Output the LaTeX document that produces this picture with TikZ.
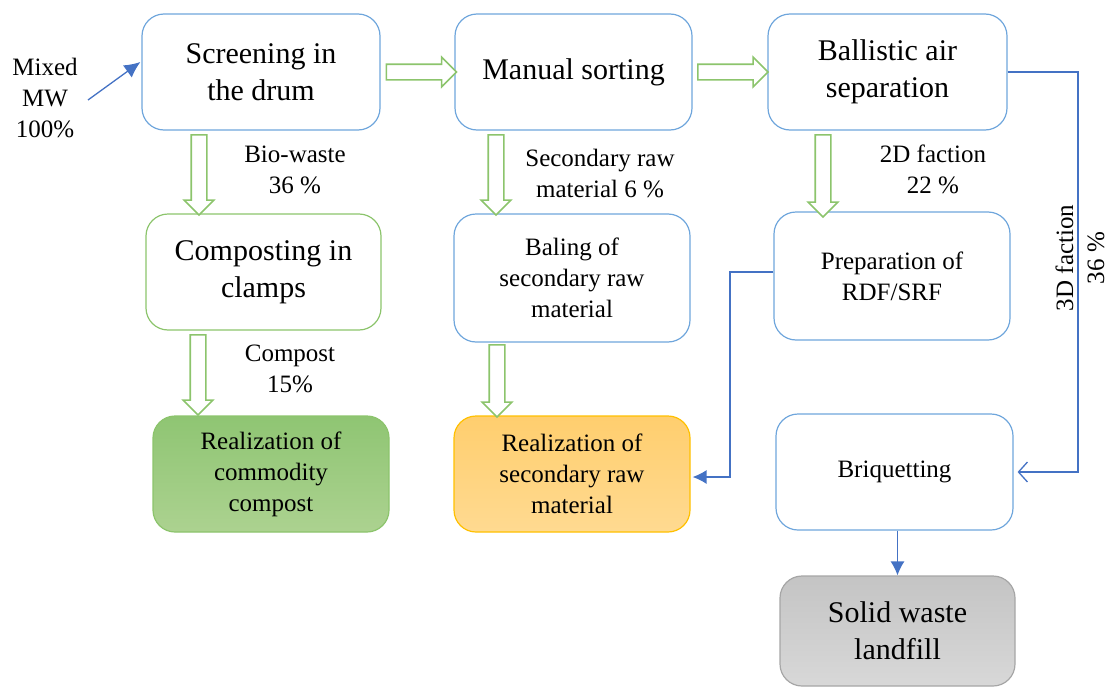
\documentclass[tikz,border=0pt]{standalone}
\usepackage{fontspec}
\setmainfont{Liberation Serif}
\usetikzlibrary{positioning}
\usetikzlibrary{calc}
\usetikzlibrary{shapes}
\usetikzlibrary{arrows.meta}
\definecolor{boxblue}{HTML}{6FA6DC}
\definecolor{linkblue}{HTML}{4472C4}
\definecolor{boxgreen}{HTML}{8CC46C}
\definecolor{boxgold}{HTML}{FFC000}
\definecolor{boxgray}{HTML}{A6A6A6}
\tikzset{>=latex}
\tikzset{stage/.style={rectangle, rounded corners=22pt, draw=boxblue, line width=1.2pt, align=center, font=\rmfamily\fontsize{30}{37}\selectfont}}
\tikzset{smalltext/.style={font=\rmfamily\fontsize{25}{31}\selectfont}}
\tikzset{greenbox/.style={stage, draw=boxgreen}}
\tikzset{compostout/.style={stage, smalltext, draw=boxgreen, top color={rgb,255:red,143;green,197;blue,115}, bottom color={rgb,255:red,172;green,210;blue,144}}}
\tikzset{goldout/.style={stage, smalltext, draw=boxgold, top color={rgb,255:red,255;green,206;blue,110}, bottom color={rgb,255:red,255;green,218;blue,145}}}
\tikzset{grayout/.style={stage, draw=boxgray, top color={rgb,255:red,196;green,196;blue,196}, bottom color={rgb,255:red,216;green,216;blue,216}}}
\tikzset{flowlabel/.style={align=center, smalltext}}
\tikzset{hollow/.style={single arrow, draw=boxgreen, fill=white, line width=1.6pt, inner sep=7pt, single arrow head extend=7pt, minimum height=70pt}}
\tikzset{link/.style={draw=linkblue, line width=1.3pt}}

\begin{document}
\begin{tikzpicture}[x=1pt, y=-1pt]
    \useasboundingbox (0,0) rectangle (1109,688);

    % first row
    \node [stage, minimum width=238pt, minimum height=116pt] (screen) at (261,72) {Screening in\\the drum};
    \node [stage, minimum width=237pt, minimum height=116pt] (sort) at (573.5,72) {Manual sorting};
    \node [stage, minimum width=239pt, minimum height=116pt] (ballistic) at (887.5,72) {Ballistic air\\separation};

    % second row
    \node [greenbox, minimum width=235pt, minimum height=116pt] (clamps) at (263.5,272) {Composting in\\clamps};
    \node [stage, smalltext, minimum width=236pt, minimum height=128pt] (baling) at (572,278) {Baling of\\secondary raw\\material};
    \node [stage, smalltext, minimum width=236pt, minimum height=128pt] (prep) at (892,276) {Preparation of\\RDF/SRF};

    % outputs
    \node [compostout, minimum width=236pt, minimum height=116pt] (realcompost) at (271,474) {Realization of\\commodity\\compost};
    \node [goldout, minimum width=236pt, minimum height=116pt] (realsecond) at (572,474) {Realization of\\secondary raw\\material};
    \node [stage, smalltext, minimum width=237pt, minimum height=116pt] (briq) at (894.5,472) {Briquetting};
    \node [grayout, minimum width=235pt, minimum height=110pt] (landfill) at (897.5,631) {Solid waste\\landfill};

    % hollow arrows
    \node [hollow] (h1) at (417.5,72) {};
    \node [hollow] (h2) at (729,72) {};
    \node [hollow, shape border rotate=270, minimum height=80pt] (v1) at (199,171) {};
    \node [hollow, shape border rotate=270, minimum height=80pt] (v2) at (198,371) {};
    \node [hollow, shape border rotate=270, minimum height=80pt] (v3) at (496,171) {};
    \node [hollow, shape border rotate=270, minimum height=72pt] (v4) at (497,377) {};
    \node [hollow, shape border rotate=270, minimum height=82pt] (v5) at (823,172) {};

    % flow labels
    \node [flowlabel] (mw) at (45,98) {Mixed\\MW\\100\%};
    \node [flowlabel] (biolbl) at (295,170) {Bio-waste\\36 \%};
    \node [flowlabel] (complbl) at (290,369) {Compost\\15\%};
    \node [flowlabel] (seclbl) at (600,173) {Secondary raw\\material 6 \%};
    \node [flowlabel] (twodlbl) at (933,169) {2D faction\\22 \%};
    \node [flowlabel, rotate=90] (threedlbl) at (1080,258) {3D faction\\36 \%};

    % blue connectors
    \coordinate (mwtail) at (88,100);
    \coordinate (turn3d) at (1078,72);
    \coordinate (turnrdf) at (730,272);
    \draw [link, -{Latex[length=16pt, width=15pt]}] (mwtail) -- ($(screen.west)+(-1,-10)$);
    \draw [link, -{Straight Barb[length=9pt, width=20pt]}, shorten >=4pt] (ballistic.east) -- (turn3d) |- (briq.east);
    \draw [link, -{Latex[length=14pt, width=14pt]}] ($(prep.west)+(0,-4)$) -- (turnrdf) |- ($(realsecond.east)+(2,3)$);
    \draw [link, -{Latex[length=14pt, width=14pt]}] (briq.south -| landfill.north) -- (landfill.north);

\end{tikzpicture}
\end{document}
